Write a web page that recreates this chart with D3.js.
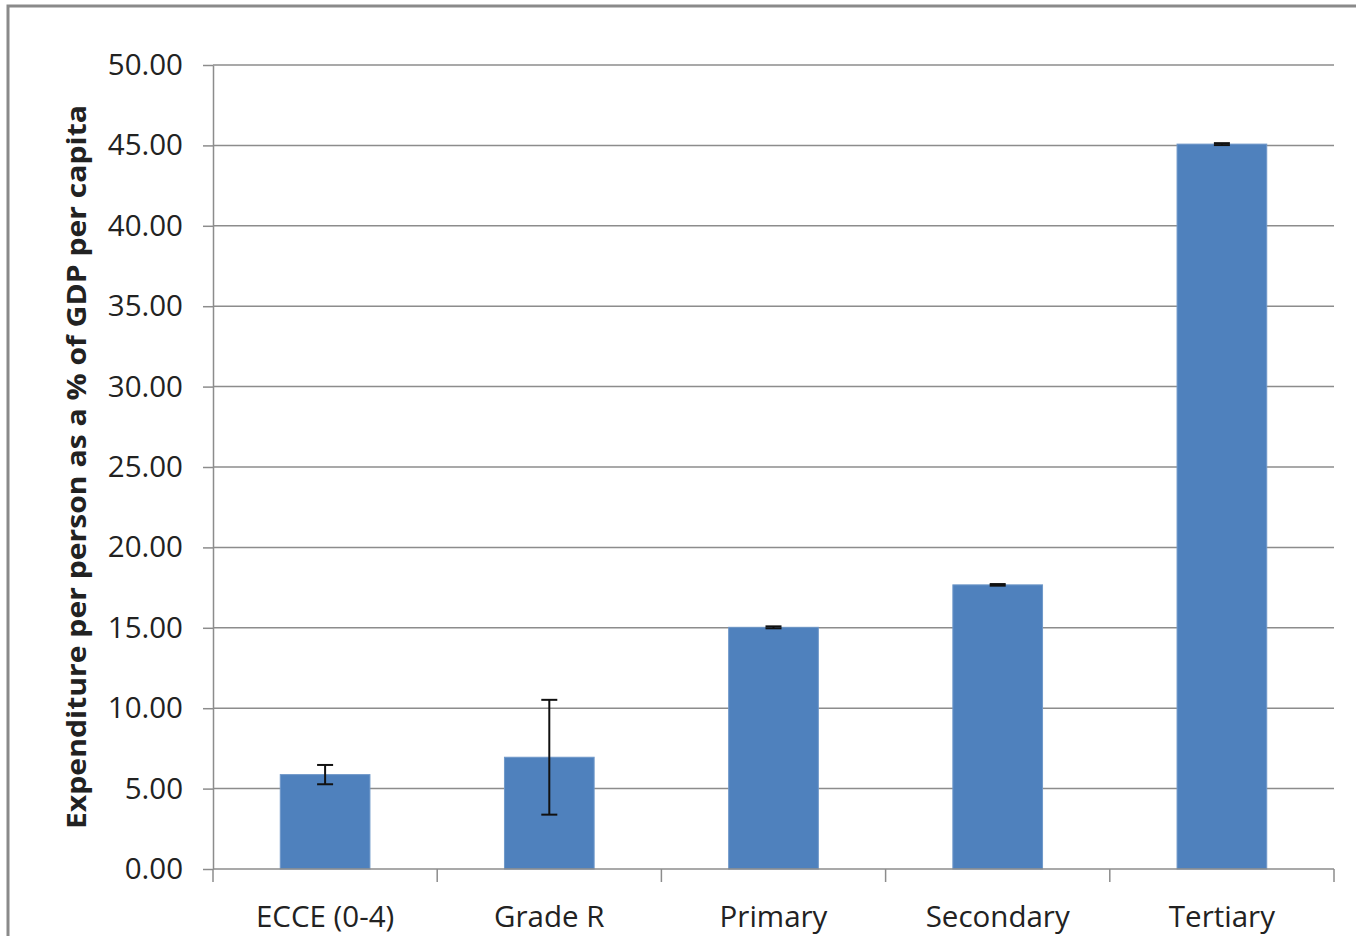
<!DOCTYPE html>
<html lang="en">
<head>
<meta charset="utf-8">
<title>Expenditure per person</title>
<script src="https://cdn.jsdelivr.net/npm/d3@7"></script>
<style>
  body { margin: 0; background: #fff; }
  svg text { font-family: "Open Sans", "Noto Sans", sans-serif; fill: #222; }
</style>
</head>
<body>
<div id="chart"></div>
<script>
// data
var categories = ["ECCE (0-4)", "Grade R", "Primary", "Secondary", "Tertiary"];
var values = [5.87, 6.95, 15.03, 17.67, 45.08];
var errors = [0.6, 3.57, 0.06, 0.05, 0.06];
var yTicks = [0, 5, 10, 15, 20, 25, 30, 35, 40, 45, 50];

var W = 1356, H = 936;
// plot area (note: "top" is reserved on window, so use other names)
var plotL = 213, plotR = 1334, plotT = 65, plotB = 869;

var svg = d3.select("#chart").append("svg")
  .attr("width", W)
  .attr("height", H);

// chart frame (runs off right and bottom edges)
svg.append("rect")
  .attr("x", 8).attr("y", 6)
  .attr("width", W + 20).attr("height", H + 20)
  .attr("fill", "#fff")
  .attr("stroke", "#8a8a8a")
  .attr("stroke-width", 3);

var x = d3.scaleBand()
  .domain(categories)
  .range([plotL, plotR])
  .paddingInner(0)
  .paddingOuter(0);

var y = d3.scaleLinear()
  .domain([0, 50])
  .range([plotB, plotT]);

// gridlines
svg.append("g").selectAll("line")
  .data(yTicks.filter(function(d){ return d > 0; }))
  .enter().append("line")
  .attr("x1", plotL).attr("x2", plotR)
  .attr("y1", function(d){ return y(d); })
  .attr("y2", function(d){ return y(d); })
  .attr("stroke", "#8c8c8c")
  .attr("stroke-width", 1.5);

// y axis
var yAxis = svg.append("g")
  .attr("transform", "translate(" + plotL + ",0)")
  .call(d3.axisLeft(y).tickValues(yTicks).tickSize(10).tickSizeOuter(0).tickPadding(20)
    .tickFormat(d3.format(".2f")));
yAxis.selectAll("line").attr("stroke", "#8c8c8c").attr("stroke-width", 1.5);
yAxis.select(".domain").attr("stroke", "#8c8c8c").attr("stroke-width", 1.5);
yAxis.selectAll("text")
  .attr("font-size", "29.5px")
  .attr("font-family", "Open Sans, sans-serif")
  .attr("fill", "#222");

// bars
var bw = x.bandwidth() / 2.5;
svg.append("g").selectAll("rect")
  .data(categories)
  .enter().append("rect")
  .attr("x", function(d){ return x(d) + x.bandwidth() / 2 - bw / 2; })
  .attr("y", function(d, i){ return y(values[i]); })
  .attr("width", bw)
  .attr("height", function(d, i){ return y(0) - y(values[i]); })
  .attr("fill", "#4f81bd")
  .attr("stroke", "#6f98c9")
  .attr("stroke-width", 1);

// error bars
var eb = svg.append("g").attr("stroke", "#111").attr("stroke-width", 2);
categories.forEach(function(c, i){
  var cx = x(c) + x.bandwidth() / 2;
  var hi = y(values[i] + errors[i]), lo = y(values[i] - errors[i]);
  eb.append("line").attr("x1", cx).attr("x2", cx).attr("y1", hi).attr("y2", lo);
  eb.append("line").attr("x1", cx - 8).attr("x2", cx + 8).attr("y1", hi).attr("y2", hi);
  eb.append("line").attr("x1", cx - 8).attr("x2", cx + 8).attr("y1", lo).attr("y2", lo);
});

// x axis with ticks at category boundaries
var xAxis = svg.append("g")
  .attr("transform", "translate(0," + plotB + ")");
xAxis.append("line")
  .attr("x1", plotL).attr("x2", plotR)
  .attr("stroke", "#8c8c8c").attr("stroke-width", 1.5);
var bounds = categories.map(function(c){ return x(c); }).concat([plotR]);
xAxis.selectAll(".tk")
  .data(bounds)
  .enter().append("line")
  .attr("class", "tk")
  .attr("x1", function(d){ return d; }).attr("x2", function(d){ return d; })
  .attr("y1", 0).attr("y2", 13)
  .attr("stroke", "#8c8c8c").attr("stroke-width", 1.5);
xAxis.selectAll("text")
  .data(categories)
  .enter().append("text")
  .attr("x", function(d){ return x(d) + x.bandwidth() / 2; })
  .attr("y", 58)
  .attr("text-anchor", "middle")
  .attr("font-size", "29.5px")
  .text(function(d){ return d; });

// y axis title
svg.append("text")
  .attr("transform", "translate(86," + ((plotT + plotB) / 2) + ") rotate(-90)")
  .attr("text-anchor", "middle")
  .attr("font-weight", "bold")
  .attr("font-size", "27px")
  .attr("textLength", 724)
  .attr("lengthAdjust", "spacingAndGlyphs")
  .text("Expenditure per person as a % of GDP per capita");
</script>
</body>
</html>
